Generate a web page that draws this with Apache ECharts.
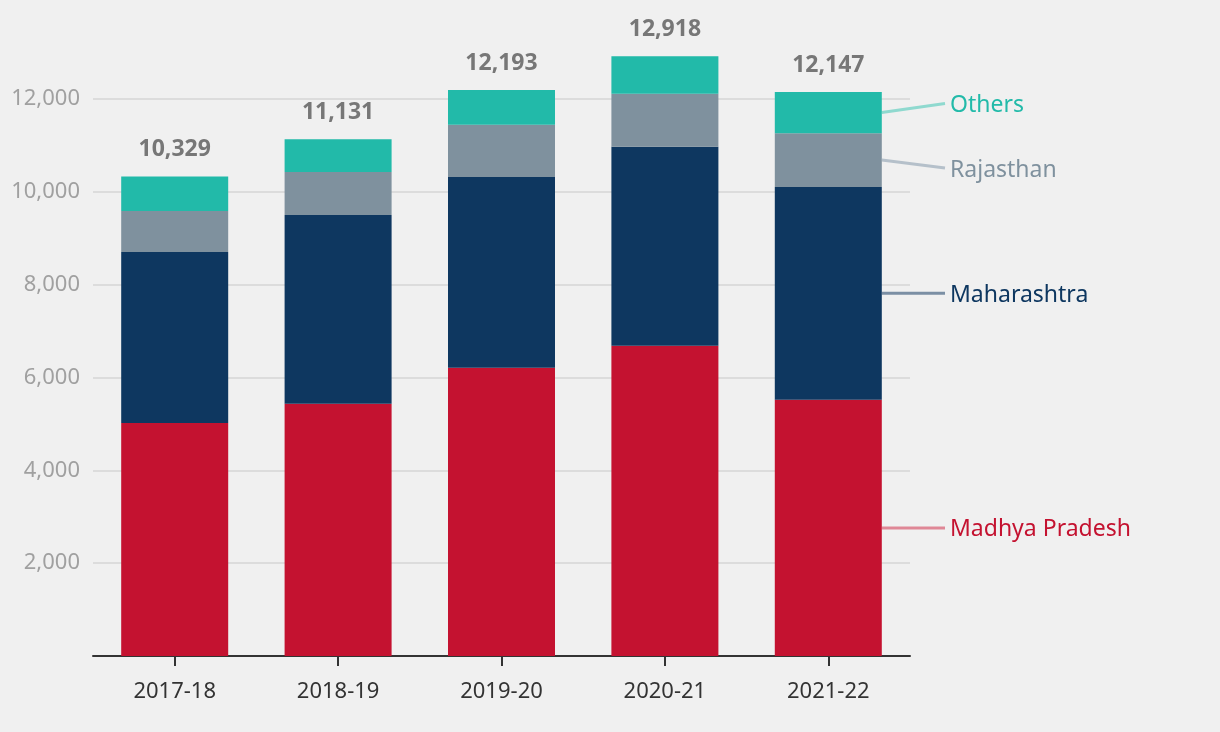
<!DOCTYPE html>
<html>
<head>
<meta charset="utf-8">
<script src="https://cdn.jsdelivr.net/npm/echarts@6/dist/echarts.min.js"></script>
<style>
  html, body { margin: 0; padding: 0; background: #f0f0f0; }
  #chart { width: 1220px; height: 732px; }
</style>
</head>
<body>
<div id="chart"></div>
<script>
const categories = ['2017-18', '2018-19', '2019-20', '2020-21', '2021-22'];
const madhyaPradesh = [5017, 5433, 6209, 6683, 5519];
const maharashtra = [3686, 4067, 4110, 4283, 4584];
const rajasthan = [883, 927, 1121, 1142, 1158];
const others = [743, 704, 753, 810, 886];
const totals = [10329, 11131, 12193, 12918, 12147];
const seriesNames = ['Madhya Pradesh', 'Maharashtra', 'Rajasthan', 'Others'];
const yTicks = [0, 2000, 4000, 6000, 8000, 10000, 12000];

const FONT = '"Noto Sans", sans-serif';
const colors = ['#c41230', '#0e3760', '#7f919e', '#22baa9'];
const lineColors = ['#df8796', '#7b8fa4', '#b5c0ca', '#8fd9cf'];
const labelDy = [0, 0, 8, -9];
const BAR_W = 107;

const chart = echarts.init(document.getElementById('chart'), null, { renderer: 'canvas' });
const dataSets = [madhyaPradesh, maharashtra, rajasthan, others];

const series = dataSets.map((d, si) => ({
  name: seriesNames[si],
  type: 'bar',
  stack: 'total',
  data: d,
  barWidth: BAR_W,
  itemStyle: { color: colors[si] },
  emphasis: { disabled: true },
  label: si === 3 ? {
    show: true,
    position: 'top',
    distance: 15,
    formatter: p => totals[p.dataIndex].toLocaleString('en-US'),
    color: '#777777',
    fontFamily: FONT,
    fontWeight: 'bold',
    fontSize: 23
  } : { show: false }
}));

chart.setOption({
  backgroundColor: '#f0f0f0',
  animation: false,
  grid: { left: 93, right: 310, top: 6, bottom: 76, containLabel: false },
  xAxis: {
    type: 'category',
    data: categories,
    axisLine: { lineStyle: { color: '#333333', width: 2 } },
    axisTick: { show: true, alignWithLabel: true, length: 10, lineStyle: { color: '#333333', width: 2 } },
    axisLabel: { color: '#333333', fontFamily: FONT, fontSize: 22, margin: 25 }
  },
  yAxis: {
    type: 'value',
    min: 0,
    max: 14000,
    interval: 2000,
    axisLine: { show: false },
    axisTick: { show: false },
    splitLine: { show: true, showMinLine: false, showMaxLine: false, lineStyle: { color: '#dcdcdc', width: 2 } },
    axisLabel: {
      color: '#a0a0a0', fontFamily: FONT, fontSize: 22, margin: 13,
      showMinLabel: false, showMaxLabel: false,
      formatter: v => yTicks.indexOf(v) > 0 ? v.toLocaleString('en-US') : ''
    }
  },
  series: series
});

// End labels with leader lines, positioned through the chart's own scales
const last = categories.length - 1;
const cx = chart.convertToPixel({ xAxisIndex: 0 }, categories[last]);
const barRight = cx + BAR_W / 2;
let cum = 0;
const graphics = [];
dataSets.forEach((d, si) => {
  const lo = cum;
  const hi = cum + d[last];
  cum = hi;
  const midY = chart.convertToPixel({ yAxisIndex: 0 }, (lo + hi) / 2);
  const ty = midY + labelDy[si];
  graphics.push({
    type: 'line',
    silent: true,
    shape: { x1: barRight, y1: midY, x2: 945, y2: ty },
    style: { stroke: lineColors[si], lineWidth: 3 }
  });
  graphics.push({
    type: 'text',
    silent: true,
    style: {
      text: seriesNames[si], x: 950, y: ty + 2,
      fill: colors[si], font: '23px ' + FONT,
      align: 'left', verticalAlign: 'middle'
    }
  });
});
chart.setOption({ graphic: graphics });
</script>
</body>
</html>
